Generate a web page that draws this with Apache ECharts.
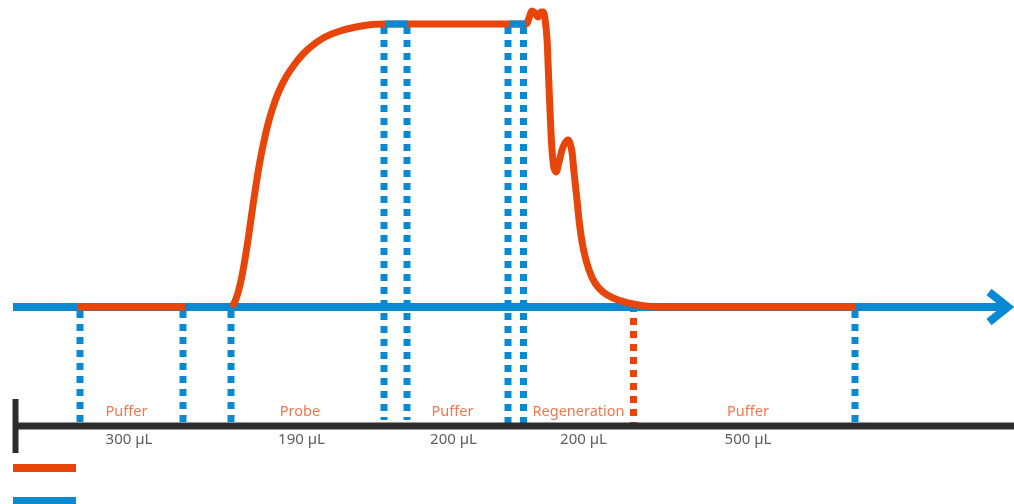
<!DOCTYPE html>
<html>
<head>
<meta charset="utf-8">
<script src="https://cdn.jsdelivr.net/npm/echarts@6/dist/echarts.min.js"></script>
<style>
  html, body { margin: 0; padding: 0; background: #fff; }
  #main { width: 1014px; height: 504px; }
</style>
</head>
<body>
<div id="main"></div>
<script>
// time (x) and response (y, baseline = 0)
var bufferSegment = [[78, 0], [185, 0]];
var signalCurve = [
    [232, 0], [236, 8], [240, 22], [244, 42], [248, 67], [252, 95], [256, 122],
    [260, 146], [264, 166], [268, 183], [273, 200], [279, 216], [286, 230],
    [294, 242], [303, 253], [313, 262], [325, 270], [340, 276], [356, 280],
    [372, 282.5], [386, 283], [450, 283], [509, 283], [526, 283],
    [529, 289], [532, 296], [535, 294], [538, 290], [541, 295], [543, 295],
    [545, 288], [547, 268], [548, 245], [550, 197], [552, 157], [554, 139],
    [556, 135], [559, 145], [562, 157], [565, 164], [568, 167], [570, 164],
    [572, 155], [574, 135], [577, 107], [580, 79], [584, 55], [589, 37],
    [595, 24], [603, 15], [613, 9], [628, 4], [645, 1], [660, 0], [855, 0]
];
var baseline = [[13, 0], [1006, 0]];
var arrowHead = [[989, 15], [1008, 0], [989, -15]];
var injectionMarks = [[386, 408], [509, 526]];

// dotted switch lines: x, top, bottom
var blueSwitches = [[80, -4, -119], [183, -4, -119], [231, -4, -119],
    [384, 280, -113], [407, 280, -113], [508, 280, -119], [523.5, 280, -119],
    [855, -4, -119]];
var orangeSwitches = [[633.5, 2, -120]];

var timeAxisLine = [[13, -119], [1014, -119]];
var timeAxisStart = [[15.5, -92], [15.5, -146]];

var phaseNames = ['Puffer', 'Probe', 'Puffer', 'Regeneration', 'Puffer'];
var phaseNameX = [126.5, 300, 452.5, 578.5, 748];
var phaseVolumes = ['300 µL', '190 µL', '200 µL', '200 µL', '500 µL'];
var phaseVolumeX = [129, 301.5, 453.5, 583.5, 748];

var BLUE = '#0a89d3';
var ORANGE = '#e8450a';

var dom = document.getElementById('main');
var myChart = echarts.init(dom);

function lineSeries(name, data, color, width, z, dash) {
    return {
        name: name,
        type: 'line',
        data: data,
        symbol: 'none',
        z: z,
        silent: true,
        lineStyle: { color: color, width: width, type: dash || 'solid', cap: 'butt', join: 'miter' },
        itemStyle: { color: color }
    };
}

var series = [];
series.push(lineSeries('Reference', baseline, BLUE, 8, 2));
series.push(lineSeries('Reference', arrowHead, BLUE, 8, 2));
blueSwitches.forEach(function (s) {
    series.push(lineSeries('switch', [[s[0], s[1]], [s[0], s[2]]], BLUE, 7, 1, [7, 6]));
});
orangeSwitches.forEach(function (s) {
    series.push(lineSeries('switch', [[s[0], s[1]], [s[0], s[2]]], ORANGE, 7, 1, [7, 6]));
});
series.push(lineSeries('Signal', bufferSegment, ORANGE, 7, 3));
var curve = lineSeries('Signal', signalCurve, ORANGE, 7, 3);
curve.smooth = 0.35;
curve.lineStyle.join = 'round';
series.push(curve);
injectionMarks.forEach(function (m) {
    series.push(lineSeries('Reference', [[m[0], 283], [m[1], 283]], BLUE, 7, 4));
});
series.push(lineSeries('axis', timeAxisLine, '#2d2d2d', 7, 1));
series.push(lineSeries('axis', timeAxisStart, '#2d2d2d', 6, 1));

series.push({
    name: 'phase',
    type: 'scatter',
    symbolSize: 0,
    silent: true,
    data: phaseNames.map(function (n, i) { return { name: n, value: [phaseNameX[i], -105] }; }),
    label: {
        show: true, position: 'inside', formatter: '{b}',
        color: '#ec5520', fontSize: 14.5, fontFamily: 'Noto Sans'
    }
});
series.push({
    name: 'volume',
    type: 'scatter',
    symbolSize: 0,
    silent: true,
    data: phaseVolumes.map(function (n, i) { return { name: n, value: [phaseVolumeX[i], -133] }; }),
    label: {
        show: true, position: 'inside', formatter: '{b}',
        color: '#333333', fontSize: 15, fontFamily: 'Noto Sans'
    }
});

function legendItem(name, top) {
    return {
        data: [name],
        left: 13,
        top: top,
        padding: 0,
        icon: 'rect',
        itemWidth: 63,
        itemHeight: 8,
        formatter: function () { return ''; },
        textStyle: { fontSize: 1, lineHeight: 1 },
        selectedMode: false
    };
}

var option = {
    animation: false,
    grid: { left: 0, right: 0, top: 0, bottom: 0 },
    xAxis: { type: 'value', min: 0, max: 1014, show: false },
    yAxis: { type: 'value', min: -197, max: 307, show: false },
    legend: [legendItem('Signal', 464), legendItem('Reference', 497)],
    series: series
};

if (option && typeof option === 'object') {
    myChart.setOption(option, true);
}
</script>
</body>
</html>
